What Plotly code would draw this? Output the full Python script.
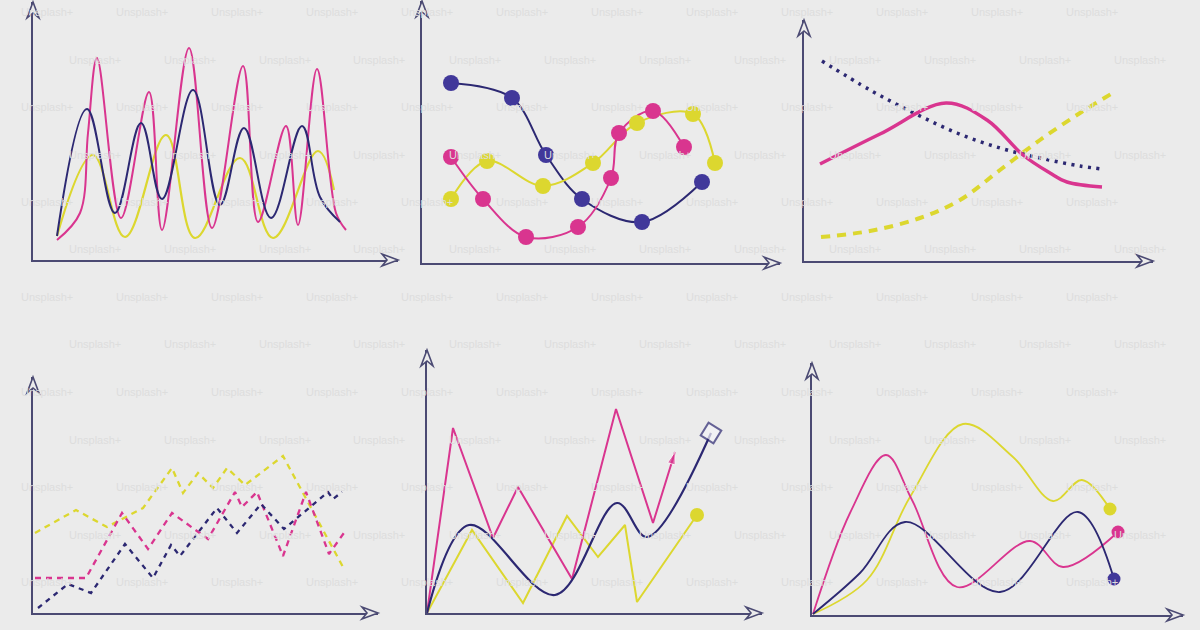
import plotly.graph_objects as go

W, H = 1200, 630
BG = "#ebebeb"
AXIS = "#4b4a73"
NAVY = "#2c2872"
NAVY_DOT = "#41389a"
MAGENTA = "#d9358f"
YELLOW = "#dcd72f"

# panel frames in pixels: origin x, origin y, x-arrow tip, y-arrow tip
PANELS = [
    (33, 260, 398, 2),
    (422, 263, 780, 1),
    (804, 261, 1153, 20),
    (33, 613, 378, 377),
    (427, 613, 762, 350),
    (812, 615, 1183, 363),
]

# panel 1 - oscillating curves
p1_magenta_x = [24, 47, 55, 64, 88, 116, 129, 156, 179, 210, 225, 253, 265, 284, 303, 313]
p1_magenta_y = [20, 47, 127, 202, 42, 168, 30, 212, 32, 194, 38, 134, 35, 191, 47, 30]
p1_navy_x = [24, 54, 82, 108, 129, 160, 187, 211, 238, 269, 287, 307]
p1_navy_y = [24, 151, 47, 137, 61, 170, 55, 132, 42, 134, 63, 38]
p1_yellow_x = [24, 60, 92, 133, 162, 207, 240, 285, 301]
p1_yellow_y = [24, 105, 23, 125, 22, 102, 22, 109, 70]

# panel 2 - curves with dots
p2_navy_x = [29, 90, 124, 160, 220, 280]
p2_navy_y = [180, 165, 108, 64, 41, 81]
p2_magenta_x = [29, 61, 104, 156, 189, 197, 231, 262]
p2_magenta_y = [106, 64, 26, 36, 85, 130, 152, 116]
p2_yellow_x = [29, 65, 121, 171, 215, 271, 293]
p2_yellow_y = [64, 102, 77, 100, 140, 149, 100]

# panel 3 - dotted / solid / dashed trends
p3_navy_x = [18, 66, 110, 153, 196, 236, 276, 298]
p3_navy_y = [200, 171, 148, 128, 113, 103, 95, 92]
p3_magenta_x = [16, 76, 142, 183, 219, 246, 263, 298]
p3_magenta_y = [97, 127, 158, 141, 106, 88, 79, 74]
p3_yellow_x = [17, 66, 116, 156, 196, 236, 276, 307]
p3_yellow_y = [24, 30, 43, 61, 91, 121, 148, 167]

# panel 4 - dashed zigzags
p4_yellow_x = [2, 43, 74, 110, 139, 150, 165, 180, 194, 212, 250, 310]
p4_yellow_y = [80, 103, 86, 105, 145, 120, 140, 125, 145, 128, 157, 46]
p4_magenta_x = [2, 53, 89, 115, 139, 175, 202, 209, 224, 250, 273, 296, 313]
p4_magenta_y = [35, 35, 100, 64, 100, 74, 121, 106, 121, 57, 121, 59, 83]
p4_navy_x = [5, 35, 58, 92, 120, 138, 147, 184, 204, 228, 251, 295, 300, 309]
p4_navy_y = [5, 29, 20, 69, 35, 68, 57, 105, 80, 109, 84, 121, 114, 121]

# panel 5 - zigzags with end symbols
p5_magenta_x = [0, 26, 66, 91, 145, 189, 226, 248]
p5_magenta_y = [0, 185, 75, 126, 34, 204, 90, 161]
p5_navy_x = [0, 42, 128, 190, 220, 284]
p5_navy_y = [0, 88, 18, 110, 76, 180]
p5_yellow_x = [0, 45, 96, 140, 171, 198, 210, 270]
p5_yellow_y = [0, 83, 10, 97, 56, 88, 11, 98]

# panel 6 - smooth curves ending in dots
p6_magenta_x = [1, 38, 74, 100, 145, 218, 251, 306]
p6_magenta_y = [1, 102, 160, 115, 28, 74, 48, 83]
p6_navy_x = [1, 48, 93, 188, 266, 302]
p6_navy_y = [1, 42, 93, 23, 103, 36]
p6_yellow_x = [1, 55, 98, 151, 201, 241, 270, 298]
p6_yellow_y = [1, 35, 118, 191, 158, 114, 135, 106]

fig = go.Figure()


def ax(i):
    return ("x" if i == 1 else f"x{i}"), ("y" if i == 1 else f"y{i}")


def line(i, xs, ys, color, width, shape="linear", dash="solid", smooth=1.0, **kw):
    xa, ya = ax(i)
    fig.add_trace(go.Scatter(
        x=xs, y=ys, xaxis=xa, yaxis=ya, mode="lines", cliponaxis=False,
        line=dict(color=color, width=width, shape=shape, dash=dash,
                  smoothing=smooth if shape == "spline" else None),
        hoverinfo="skip", **kw))


def dots(i, xs, ys, color, size, symbol="circle", **kw):
    xa, ya = ax(i)
    fig.add_trace(go.Scatter(
        x=xs, y=ys, xaxis=xa, yaxis=ya, mode="markers", cliponaxis=False,
        marker=dict(color=color, size=size, symbol=symbol, **kw),
        hoverinfo="skip"))


# panel 1
line(1, p1_yellow_x, p1_yellow_y, YELLOW, 2.2, "spline", smooth=1.1)
line(1, p1_magenta_x, p1_magenta_y, MAGENTA, 2, "spline", smooth=1.0)
line(1, p1_navy_x, p1_navy_y, NAVY, 2, "spline", smooth=1.1)

# panel 2
line(2, p2_navy_x, p2_navy_y, NAVY, 2, "spline", smooth=1.0)
line(2, p2_yellow_x, p2_yellow_y, YELLOW, 2, "spline", smooth=1.0)
line(2, p2_magenta_x, p2_magenta_y, MAGENTA, 2, "spline", smooth=1.0)
dots(2, p2_navy_x, p2_navy_y, NAVY_DOT, 16)
dots(2, p2_magenta_x, p2_magenta_y, MAGENTA, 16)
dots(2, p2_yellow_x, p2_yellow_y, YELLOW, 16)

# panel 3
line(3, p3_yellow_x, p3_yellow_y, YELLOW, 4, "spline", dash="9px,7px")
line(3, p3_navy_x, p3_navy_y, NAVY, 3.5, "spline", dash="3px,5.5px")
line(3, p3_magenta_x, p3_magenta_y, MAGENTA, 3.5, "spline")

# panel 4
line(4, p4_yellow_x, p4_yellow_y, YELLOW, 2.3, dash="6px,5px")
line(4, p4_magenta_x, p4_magenta_y, MAGENTA, 2.3, dash="6px,5px")
line(4, p4_navy_x, p4_navy_y, NAVY, 2.3, dash="5px,5px")

# panel 5
line(5, p5_yellow_x, p5_yellow_y, YELLOW, 2)
line(5, p5_magenta_x, p5_magenta_y, MAGENTA, 2)
line(5, p5_navy_x, p5_navy_y, NAVY, 2.2, "spline", smooth=1.0)
dots(5, p5_magenta_x[-2:], p5_magenta_y[-2:], MAGENTA, [0, 13], "arrow",
     angleref="previous")
dots(5, p5_navy_x[-2:], p5_navy_y[-2:], "#f4f4f8", [0, 15], "square",
     angleref="previous", line=dict(color=NAVY, width=2))
dots(5, p5_yellow_x[-1:], p5_yellow_y[-1:], YELLOW, 14)

# panel 6
line(6, p6_yellow_x, p6_yellow_y, YELLOW, 1.8, "spline", smooth=1.0)
line(6, p6_magenta_x, p6_magenta_y, MAGENTA, 1.8, "spline", smooth=1.0)
line(6, p6_navy_x, p6_navy_y, NAVY, 1.8, "spline", smooth=1.0)
dots(6, p6_yellow_x[-1:], p6_yellow_y[-1:], YELLOW, 13)
dots(6, p6_magenta_x[-1:], p6_magenta_y[-1:], MAGENTA, 13)
dots(6, p6_navy_x[-1:], p6_navy_y[-1:], NAVY_DOT, 13)

# axes with open arrowheads
layout = {}
shapes = []
for i, (ox, oy, tx, ty) in enumerate(PANELS, start=1):
    xa, ya = ax(i)
    xk = "xaxis" if i == 1 else f"xaxis{i}"
    yk = "yaxis" if i == 1 else f"yaxis{i}"
    common = dict(showgrid=False, zeroline=False, showticklabels=False, ticks="",
                  showline=True, linecolor=AXIS, linewidth=2.4, fixedrange=True)
    layout[xk] = dict(domain=[ox / W, tx / W], range=[0, tx - ox], anchor=ya, **common)
    layout[yk] = dict(domain=[1 - oy / H, 1 - ty / H], range=[0, oy - ty], anchor=xa, **common)
    arrow = dict(type="path", xref=f"{xa} domain", yref=f"{ya} domain",
                 xsizemode="pixel", ysizemode="pixel", fillcolor=BG,
                 line=dict(color=AXIS, width=1.6), layer="above")
    shapes.append(dict(arrow, xanchor=1, yanchor=0,
                       path="M 0,0 L -16,6 L -11,0 L -16,-6 Z"))
    shapes.append(dict(arrow, xanchor=0, yanchor=1,
                       path="M 0,0 L -6,-16 L 0,-11 L 6,-16 Z"))

# faint repeated watermark (only the copies that fit fully on the page)
marks = []
for r in range(13):
    y = 12 + 47.5 * r
    off = 47 if r % 2 == 0 else -0.5
    for c in range(14):
        x = off + 95 * c
        if x < 28 or x > W - 28:
            continue
        marks.append(dict(text="Unsplash+", x=x / W, y=1 - y / H, xref="paper", yref="paper",
                          showarrow=False, xanchor="center", yanchor="middle",
                          font=dict(family="Liberation Sans, Arial", size=11, color="#dddddd")))

fig.update_layout(
    width=W, height=H, margin=dict(l=0, r=0, t=0, b=0),
    paper_bgcolor=BG, plot_bgcolor=BG, showlegend=False,
    shapes=shapes, annotations=marks, **layout)

fig.write_html("out.html", config={"displayModeBar": False, "staticPlot": True},
               post_script="document.body.style.margin='0';")
